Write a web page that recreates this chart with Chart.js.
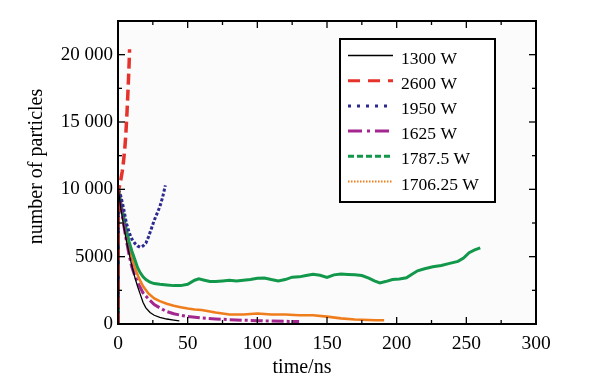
<!DOCTYPE html>
<html>
<head>
<meta charset="utf-8">
<title>number of particles vs time</title>
<script src="https://cdn.jsdelivr.net/npm/chart.js"></script>
<style>
  body { margin: 0; background: #fff; }
</style>
</head>
<body>
<canvas id="particleChart" width="592" height="385"></canvas>
<script>
// series labels (input power)
const powerLabels = ['1300 W', '2600 W', '1950 W', '1625 W', '1787.5 W', '1706.25 W'];

// time (ns) / particle count
const t1300 = [0, 0.3, 2, 4, 6, 8, 10, 12, 14, 16, 18, 20, 23, 26, 30, 35, 40, 44];
const n1300 = [0, 10000, 8600, 7300, 6200, 5200, 4300, 3500, 2800, 2200, 1600, 1200, 850, 650, 500, 370, 290, 230];

const t2600 = [0, 0.3, 1, 2, 3, 4, 5, 5.5, 6, 6.5, 7, 7.5, 8, 8.3];
const n2600 = [0, 10000, 10200, 10700, 11300, 12100, 13200, 13900, 14800, 15800, 16900, 18100, 19400, 20400];

const t1950 = [0, 0.3, 2, 4, 6, 8, 10, 12, 14, 16, 18, 20, 22, 24, 26, 28, 30, 32, 34];
const n1950 = [0, 10000, 9500, 8600, 7500, 6800, 6300, 6000, 5800, 5700, 5800, 6000, 6500, 7100, 7700, 8200, 8700, 9400, 10300];

const t1625 = [0, 0.3, 2, 4, 6, 8, 10, 12, 15, 18, 22, 26, 30, 35, 40, 45, 50, 60, 70, 80, 90, 100, 110, 120, 130];
const n1625 = [0, 10000, 8800, 7400, 6200, 5100, 4200, 3600, 2900, 2300, 1850, 1450, 1200, 920, 760, 650, 560, 450, 380, 320, 280, 250, 220, 200, 180];

const t1787 = [0, 0.3, 2, 4, 6, 8, 10, 12, 14, 16, 18, 20, 23, 26, 30, 35, 40, 45, 50, 55, 58, 62, 66, 70, 75, 80, 85, 90, 95, 100,
  105, 110, 115, 120, 125, 130, 135, 140, 145, 150, 155, 160, 165, 170, 175, 180, 184, 188, 192, 197, 202, 207, 211, 215, 220,
  226, 232, 238, 244, 248, 252, 256, 260];
const n1787 = [0, 10000, 9000, 8000, 7000, 6100, 5400, 4800, 4200, 3800, 3500, 3300, 3100, 3000, 2950, 2900, 2850, 2850, 2950, 3250,
  3350, 3250, 3150, 3150, 3200, 3250, 3200, 3250, 3300, 3400, 3420, 3300, 3200, 3300, 3480, 3500, 3600, 3700, 3620, 3460, 3650,
  3720, 3680, 3650, 3600, 3400, 3200, 3050, 3150, 3300, 3350, 3430, 3700, 3950, 4100, 4250, 4350, 4500, 4650, 4900, 5300, 5500, 5650];

const t1706 = [0, 0.3, 2, 4, 6, 8, 10, 12, 15, 18, 22, 26, 30, 35, 40, 45, 50, 55, 60, 70, 80, 90, 100, 110, 120, 130, 140, 150,
  160, 170, 180, 185, 191];
const n1706 = [0, 10000, 9000, 7900, 6800, 5800, 4900, 4200, 3400, 2800, 2250, 1900, 1700, 1500, 1350, 1250, 1150, 1080, 1040,
  850, 700, 700, 780, 700, 700, 650, 650, 550, 420, 330, 300, 280, 280];

// axis ticks
const xMajor = [0, 50, 100, 150, 200, 250, 300];
const xMinor = [25, 75, 125, 175, 225, 275];
const yMajor = [0, 5000, 10000, 15000, 20000];
const yMinor = [2500, 7500, 12500, 17500];

const seriesTimes = [t1300, t2600, t1950, t1625, t1787, t1706];
const seriesCounts = [n1300, n2600, n1950, n1625, n1787, n1706];

const colors = ['#000000', '#e5322b', '#2c2a8f', '#a3278f', '#12984a', '#f07d1c'];
const widths = [1.3, 3.5, 3, 3, 3, 2.6];
const plotDash = [[], [11, 5], [3, 2], [12, 3, 3, 3], [], []];
const legendWidths = [1.3, 3, 3, 3, 3, 2];
const legendDash = [[], [12, 8], [3, 6], [14, 5, 3, 5], [6, 3], [1.5, 1.5]];

const serif = '"Liberation Serif", "Times New Roman", serif';

function pairs(ts, ns) {
  return ts.map((t, i) => ({ x: t, y: ns[i] }));
}

const datasets = powerLabels.map((lab, i) => ({
  label: lab,
  data: pairs(seriesTimes[i], seriesCounts[i]),
  borderColor: colors[i],
  backgroundColor: colors[i],
  borderWidth: widths[i],
  borderDash: plotDash[i],
  pointRadius: 0,
  tension: 0,
  fill: false
}));

// background of plot area, frame, inward ticks, legend box, axis titles
const decorations = {
  id: 'decorations',
  beforeDatasetsDraw(chart) {
    const { ctx, chartArea: a } = chart;
    ctx.save();
    ctx.fillStyle = '#fbfbfb';
    ctx.fillRect(a.left, a.top, a.right - a.left, a.bottom - a.top);
    ctx.restore();
  },
  afterDatasetsDraw(chart) {
    const { ctx, chartArea: a, scales } = chart;
    ctx.save();
    ctx.strokeStyle = '#000';
    ctx.lineWidth = 2;
    ctx.setLineDash([]);
    ctx.strokeRect(a.left, a.top, a.right - a.left, a.bottom - a.top);

    ctx.lineWidth = 1.3;
    const tick = (x1, y1, x2, y2) => { ctx.beginPath(); ctx.moveTo(x1, y1); ctx.lineTo(x2, y2); ctx.stroke(); };
    const xs = (vals, len) => vals.forEach(v => {
      const px = scales.x.getPixelForValue(v);
      tick(px, a.bottom, px, a.bottom - len);
      tick(px, a.top, px, a.top + len);
    });
    const ys = (vals, len) => vals.forEach(v => {
      const py = scales.y.getPixelForValue(v);
      tick(a.left, py, a.left + len, py);
      tick(a.right, py, a.right - len, py);
    });
    xs(xMajor, 7); xs(xMinor, 4);
    ys(yMajor, 7); ys(yMinor, 4);

    // legend
    const box = { l: 340, t: 39, r: 495, b: 202 };
    ctx.fillStyle = '#fff';
    ctx.fillRect(box.l, box.t, box.r - box.l, box.b - box.t);
    ctx.lineWidth = 2;
    ctx.strokeRect(box.l, box.t, box.r - box.l, box.b - box.t);
    ctx.font = '17.5px ' + serif;
    ctx.textBaseline = 'alphabetic';
    ctx.textAlign = 'left';
    powerLabels.forEach((lab, i) => {
      const base = 63.5 + i * 25.2;
      const ly = base - 8;
      ctx.strokeStyle = colors[i];
      ctx.lineWidth = legendWidths[i];
      ctx.setLineDash(legendDash[i]);
      tick(348, ly, 393, ly);
      ctx.setLineDash([]);
      ctx.fillStyle = '#000';
      ctx.fillText(lab, 401, base);
    });

    // axis titles
    ctx.font = '20px ' + serif;
    ctx.textAlign = 'center';
    ctx.fillText('time/ns', 302, 373);
    ctx.translate(41.5, 166.5);
    ctx.rotate(-Math.PI / 2);
    ctx.fillText('number of particles', 0, 0);
    ctx.restore();
  }
};

new Chart(document.getElementById('particleChart'), {
  type: 'line',
  data: { datasets: datasets },
  options: {
    responsive: false,
    devicePixelRatio: 1,
    animation: false,
    layout: { padding: { left: 0, right: 56, top: 21, bottom: 0 } },
    plugins: { legend: { display: false }, tooltip: { enabled: false } },
    scales: {
      x: {
        type: 'linear',
        min: 0,
        max: 300,
        grid: { display: false, drawTicks: false },
        border: { display: false },
        ticks: {
          padding: 8,
          color: '#000',
          maxRotation: 0,
          autoSkip: false,
          font: { family: serif, size: 19.5 }
        },
        afterBuildTicks(s) { s.ticks = xMajor.map(v => ({ value: v })); },
        afterFit(s) { s.height = 61; }
      },
      y: {
        type: 'linear',
        min: 0,
        max: 22500,
        grid: { display: false, drawTicks: false },
        border: { display: false },
        ticks: {
          padding: 5,
          color: '#000',
          autoSkip: false,
          font: { family: serif, size: 19 },
          callback: v => v >= 10000 ? String(v).replace(/(\d+)(\d{3})$/, '$1 $2') : String(v)
        },
        afterBuildTicks(s) { s.ticks = yMajor.map(v => ({ value: v })); },
        afterFit(s) { s.width = 118; }
      }
    }
  },
  plugins: [decorations]
});
</script>
</body>
</html>
